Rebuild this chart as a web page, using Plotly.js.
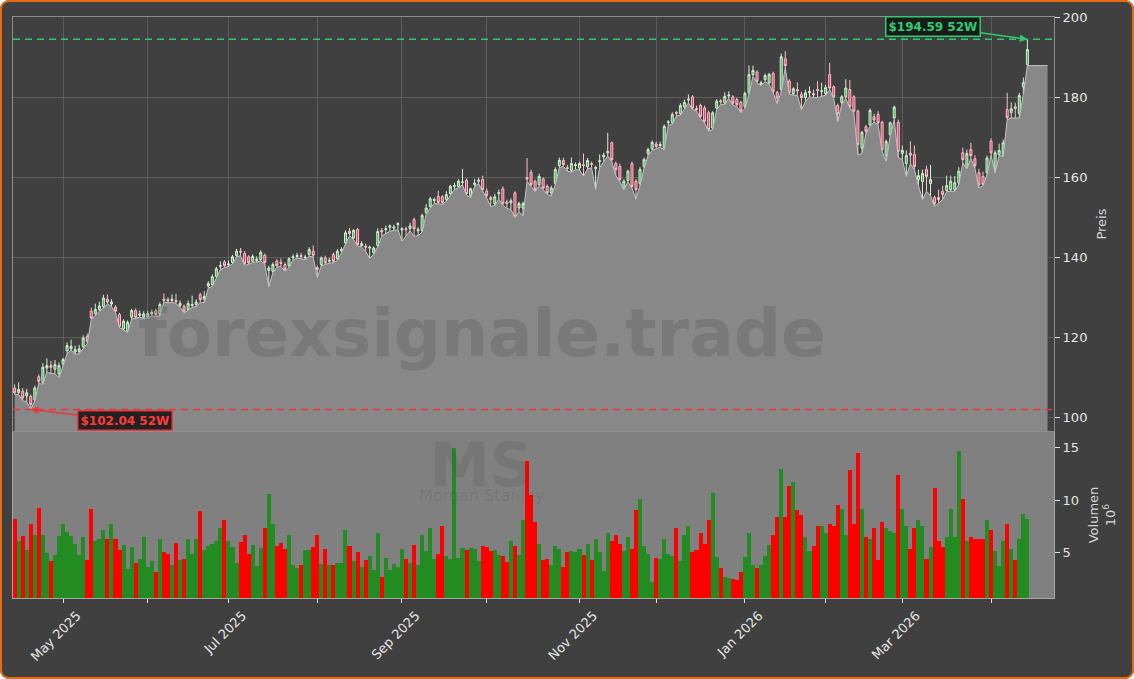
<!DOCTYPE html>
<html><head><meta charset="utf-8">
<script src="https://cdn.plot.ly/plotly-3.0.1.min.js"></script>
<style>
html,body{margin:0;padding:0;background:#ffffff;}
#wrap{position:relative;width:1134px;height:679px;border-radius:9px;overflow:hidden;}
#chart{width:1134px;height:679px;}
#frame{position:absolute;left:0;top:0;width:1134px;height:679px;box-sizing:border-box;border:2px solid #ea6a12;border-radius:9px;pointer-events:none;}
</style></head><body>
<div id="wrap"><div id="chart"></div><div id="frame"></div></div>
<script>
// ---- data ----
const startDate = '2025-04-14';
const holidays = ['2025-04-18','2025-05-26','2025-06-19','2025-07-04','2025-09-01','2025-11-27','2025-12-25','2026-01-01','2026-01-19','2026-02-16','2026-04-03'];
const tailDays = 5;

const opens = [
107.4,106.3,106.6,105.4,105.3,104.4,110.2,108.8,112.4,113.0,
112.1,110.9,113.4,116.7,117.2,116.4,116.5,117.8,120.3,126.6,
126.0,127.0,127.8,129.6,128.4,127.6,125.75,122.2,121.6,125.1,
126.75,125.6,125.1,125.1,125.9,126.7,125.9,129.6,129.5,129.3,
129.3,128.0,127.8,127.0,128.0,128.3,130.75,129.6,132.9,133.25,
135.3,137.8,138.9,138.2,138.8,140.5,141.6,141.0,140.2,139.1,
139.3,139.5,140.6,136.8,136.6,139.1,138.8,138.25,138.0,140.0,
140.3,140.5,140.0,140.8,141.6,137.5,138.25,139.9,139.1,140.75,
139.7,141.7,143.7,146.6,144.9,147.0,143.0,142.9,142.4,141.2,
143.0,146.8,147.0,147.6,147.4,148.3,146.9,147.2,147.3,149.5,
146.7,146.8,151.2,152.8,154.3,155.3,155.2,154.5,156.0,157.8,
157.8,158.8,159.3,155.5,158.3,159.1,159.5,156.6,155.0,153.5,
156.0,157.2,153.9,153.7,156.2,152.4,152.4,160.0,161.3,159.1,
158.25,159.7,157.8,156.2,158.5,163.0,164.3,162.5,161.8,163.0,
162.4,163.2,162.7,163.5,162.3,164.0,165.2,166.2,168.7,163.5,
162.8,157.4,159.3,163.5,159.1,158.5,162.8,166.0,167.2,168.4,
168.0,167.4,173.8,173.7,176.3,176.0,177.7,179.4,180.2,177.3,
178.0,177.4,176.2,172.4,177.4,179.2,178.7,180.4,180.2,179.5,
178.8,177.8,181.2,185.75,186.4,183.3,184.5,183.7,186.0,181.3,
182.0,189.7,184.1,181.0,182.0,180.8,180.0,181.2,181.0,182.0,
181.5,181.0,185.75,182.7,178.0,178.8,180.2,182.0,180.2,176.6,
167.4,172.7,173.25,175.2,175.75,173.8,165.5,170.75,174.9,173.8,
166.0,163.5,166.1,165.75,159.5,159.0,162.0,158.5,155.0,155.0,
156.6,156.8,157.0,157.0,158.7,166.2,162.4,167.0,164.7,161.2,
160.3,161.2,169.1,162.0,165.75,165.5,177.0,176.3,177.7,176.0,
182.7,188.3];

const highs = [
108.3,108.8,107.4,107.2,105.8,108.0,110.8,113.6,114.8,114.2,
114.4,113.8,114.9,118.8,119.5,118.0,118.2,120.6,121.0,127.5,
128.5,129.0,130.7,130.8,129.6,128.1,126.2,124.6,124.3,127.2,
127.3,126.8,126.6,126.8,127.0,127.2,128.8,131.0,130.1,130.8,
131.0,129.3,128.3,129.3,130.5,129.6,131.2,131.6,134.1,135.8,
137.7,139.1,139.4,139.3,140.7,142.2,142.4,141.6,140.6,140.8,
140.3,141.8,141.0,138.0,138.8,139.6,139.8,138.8,140.1,140.8,
141.2,141.2,140.7,142.6,143.0,138.0,140.3,140.5,140.0,141.3,
142.1,142.6,146.8,147.4,147.1,147.4,144.1,143.5,143.0,142.8,
147.3,147.4,148.0,148.3,148.2,148.8,147.6,147.7,148.7,150.0,
147.6,151.0,153.4,155.2,155.0,156.7,155.6,156.6,158.2,158.7,
159.6,162.2,159.8,157.5,159.7,160.0,160.5,157.3,155.5,156.0,
157.0,157.8,154.5,154.8,156.6,154.0,154.0,164.9,162.0,159.5,
161.0,160.0,158.3,158.0,162.6,165.0,165.0,163.2,165.0,163.8,
164.0,166.0,164.9,164.0,163.0,165.8,166.2,171.2,169.0,164.0,
163.5,159.6,162.0,164.0,159.6,162.6,165.0,167.5,169.3,169.0,
169.0,173.3,174.4,176.3,176.7,178.6,179.5,180.8,180.6,178.0,
178.5,178.0,176.7,176.6,179.6,179.6,181.3,181.6,180.6,180.0,
179.2,181.5,188.0,188.0,186.8,184.2,186.0,186.2,186.5,181.7,
191.0,191.6,184.6,182.6,183.8,181.5,182.0,182.8,182.0,184.1,
183.7,183.2,188.7,183.0,178.5,180.6,184.6,184.4,180.6,177.0,
171.7,173.2,177.3,176.0,176.6,174.2,169.5,174.0,178.0,174.5,
168.0,166.8,169.1,168.0,162.0,162.0,163.0,163.2,155.5,157.0,
158.0,160.5,160.5,160.4,162.6,167.5,167.0,168.7,165.6,162.2,
161.5,165.5,169.8,166.8,168.5,169.5,181.2,178.8,178.7,181.2,
185.0,194.59];

const lows = [
105.8,105.8,104.2,104.0,102.04,104.2,108.6,108.3,111.4,111.0,
111.0,110.0,112.9,116.0,116.9,115.8,116.0,117.3,118.5,124.5,
125.6,126.6,127.4,128.4,127.8,126.3,122.5,121.9,121.3,124.6,
124.8,125.1,124.8,124.9,125.4,125.3,125.5,128.9,128.7,128.8,
128.5,127.6,126.2,126.8,127.5,127.8,128.8,128.7,132.4,132.8,
134.9,137.0,137.5,137.8,138.4,140.2,140.5,138.1,138.3,138.8,
138.9,139.2,138.4,132.7,136.2,137.6,137.8,136.6,137.5,139.4,
139.9,139.7,139.5,140.3,140.2,135.0,137.9,138.3,138.6,138.7,
139.3,141.2,143.3,145.5,144.5,142.9,142.6,141.6,139.8,140.9,
142.7,145.4,146.0,146.6,146.8,147.0,144.1,145.3,146.7,145.3,
145.5,146.4,150.8,152.4,153.6,153.4,153.3,154.1,155.6,157.0,
157.5,158.2,155.6,155.0,157.8,158.5,156.6,154.9,152.8,153.0,
154.6,153.1,152.3,152.0,150.0,151.5,150.4,159.0,157.8,156.5,
157.9,157.0,155.8,155.4,158.2,162.5,162.8,161.6,161.4,162.0,
161.9,160.4,162.2,162.4,157.0,162.5,164.0,165.4,164.0,160.5,
159.0,157.0,158.9,157.4,154.6,158.0,162.3,165.5,166.8,167.3,
167.6,167.0,173.1,173.3,175.4,175.6,177.3,178.7,177.0,176.7,
174.8,173.7,171.6,172.0,177.0,178.3,178.3,179.8,178.1,177.8,
176.2,177.3,180.8,185.3,183.7,183.0,184.0,183.3,181.2,178.5,
181.5,187.5,180.8,180.6,180.5,177.0,179.0,180.2,180.0,180.0,
180.3,180.6,182.0,179.8,174.0,178.3,179.8,177.4,176.2,165.7,
166.0,171.0,172.8,173.9,173.2,166.6,164.1,170.3,174.5,165.0,
164.5,160.3,163.5,162.0,158.0,154.5,156.6,155.5,152.8,153.7,
154.5,156.5,156.6,156.6,158.2,163.7,162.2,164.8,162.3,157.4,
158.0,160.8,165.6,161.2,165.5,165.3,174.5,174.9,174.9,174.9,
180.8,188.0];

const closes = [
106.2,107.0,104.9,106.2,103.3,107.4,109.1,112.6,113.0,112.6,
113.3,113.0,114.5,118.0,117.8,117.0,117.2,119.9,119.1,124.9,
127.0,127.9,129.9,128.9,128.9,126.6,122.8,124.1,123.8,126.75,
125.1,125.9,125.9,126.0,126.3,125.75,128.25,129.3,129.2,129.6,
129.0,128.6,126.6,128.5,128.3,128.9,129.5,130.3,133.5,135.2,
137.2,138.0,138.0,138.4,140.2,141.6,141.4,138.5,138.7,140.3,
139.6,141.3,138.8,137.4,138.25,138.0,138.6,137.0,139.7,140.2,
140.5,140.3,140.1,142.0,140.6,137.0,139.9,138.7,139.3,139.1,
141.6,142.0,146.2,146.0,146.8,143.25,143.5,142.6,142.6,142.4,
146.5,146.4,147.2,147.9,147.6,148.5,147.2,147.0,147.9,147.2,
147.0,150.5,152.4,154.7,154.5,153.8,153.8,155.75,157.8,158.0,
159.1,158.9,156.0,157.2,158.6,159.3,157.0,155.5,154.5,155.2,
156.2,153.5,153.5,154.2,150.3,153.5,153.5,159.6,158.25,157.0,
160.3,157.4,156.2,157.4,162.0,164.3,163.25,162.3,163.5,163.2,
163.5,163.0,164.3,163.3,162.5,164.2,165.6,166.5,164.5,162.0,
159.5,159.1,161.6,157.8,157.0,162.0,164.5,167.0,168.8,167.8,
168.3,172.8,173.9,175.75,176.1,178.0,178.8,179.6,177.4,177.0,
175.3,174.1,172.0,176.2,179.1,179.0,180.3,180.6,178.6,178.25,
176.6,181.0,185.75,186.8,184.1,183.7,185.5,185.75,181.6,179.9,
190.2,188.0,181.2,182.2,181.7,180.0,181.2,181.5,180.7,181.8,
181.7,182.5,182.4,180.2,176.0,180.2,182.4,177.8,176.6,168.25,
171.3,171.6,176.8,174.4,173.7,167.0,169.0,173.7,177.6,166.6,
166.8,165.5,165.6,162.8,160.5,161.0,160.3,159.5,153.5,154.5,
155.8,158.0,159.1,158.7,161.6,164.5,166.0,165.5,163.0,158.25,
158.25,164.9,166.2,166.2,166.8,168.7,175.0,177.2,177.3,180.5,
183.7,192.0];

// volume in millions of shares
const volumes = [
8.24,6.08,6.56,5.19,7.76,6.62,9.29,6.62,4.97,4.14,
4.71,6.56,7.76,6.94,6.56,5.76,4.71,6.46,4.24,9.19,
6.08,6.24,7.19,6.33,7.76,6.33,5.19,5.67,3.38,5.51,
4.0,4.33,6.43,3.57,4.14,3.1,6.24,5.03,4.81,3.76,
5.86,4.27,4.33,6.24,4.81,6.24,9.0,5.19,5.6,5.76,
6.08,7.29,8.05,6.14,5.48,3.95,5.98,6.62,4.81,5.67,
3.7,5.38,7.38,10.62,7.67,5.6,5.86,5.29,6.62,3.76,
3.48,3.76,5.19,5.19,5.48,6.71,3.86,5.29,3.76,3.76,
3.95,4.0,7.1,5.6,4.14,5.0,3.57,4.24,4.62,3.29,
6.81,2.62,4.43,3.29,3.86,3.57,5.29,4.33,3.95,5.67,
3.76,6.71,5.1,7.38,4.33,4.81,7.57,4.62,4.33,15.0,
4.43,5.38,5.19,5.38,5.29,4.14,5.6,5.48,5.1,5.19,
4.71,4.62,4.05,6.14,5.57,4.71,8.05,13.76,10.52,7.95,
5.76,4.24,4.33,3.76,5.57,5.29,3.57,5.0,5.1,5.0,
5.29,4.71,5.76,4.24,6.33,5.0,3.19,6.9,6.05,6.71,
5.76,5.1,6.43,5.29,9.1,10.14,5.57,4.81,2.14,4.43,
4.33,6.24,4.81,4.62,7.29,4.14,6.62,7.57,5.03,5.19,
6.81,5.76,8.05,10.71,4.52,3.48,2.62,2.52,2.43,2.33,
3.10,4.52,6.81,3.76,3.48,3.76,4.62,5.67,6.62,8.43,
13.0,8.43,11.38,11.76,9.1,8.62,6.43,5.1,5.57,7.48,
7.48,6.81,7.76,7.57,9.57,9.19,6.62,12.9,7.76,14.52,
9.19,6.43,6.33,7.29,4.24,7.86,7.38,7.0,6.9,12.43,
9.19,7.48,5.29,7.29,8.05,7.48,4.33,5.48,11.19,6.05,
5.48,6.52,9.19,6.43,14.71,10.14,6.05,6.43,6.33,6.33,
6.24,8.14,7.1,5.1,3.67,6.05,7.67,5.29,4.24,6.33,
8.71,8.24];

const monthKeys = ['2025-05','2025-06','2025-07','2025-08','2025-09','2025-10','2025-11','2025-12','2026-01','2026-02','2026-03','2026-04'];
const monthLabels = ['May 2025',' ','Jul 2025',' ','Sep 2025',' ','Nov 2025',' ','Jan 2026',' ','Mar 2026',' '];
const priceTicks = [100,120,140,160,180,200];
const volumeTicks = [5,10,15];

// ---- trading calendar ----
const N = closes.length;
const dates = [];
(function(){
  const hol = new Set(holidays);
  let t = Date.parse(startDate + 'T00:00:00Z');
  while (dates.length < N + tailDays) {
    const d = new Date(t);
    const wd = d.getUTCDay();
    const s = d.toISOString().slice(0,10);
    if (wd !== 0 && wd !== 6 && !hol.has(s)) dates.push(s);
    t += 86400000;
  }
})();
const cDates = dates.slice(0, N);
const areaY = lows.concat(new Array(tailDays).fill(lows[N-1]));
const tickvals = monthKeys.map(k => dates.find(s => s.startsWith(k)));

let hiIdx = 0, loIdx = 0;
for (let i = 0; i < N; i++) { if (highs[i] > highs[hiIdx]) hiIdx = i; if (lows[i] < lows[loIdx]) loIdx = i; }
const hiVal = highs[hiIdx], loVal = lows[loIdx];

const volColors = cDates.map((d,i) => closes[i] >= opens[i] ? '#228b22' : '#ff0000');

const FONT = 'DejaVu Sans, Liberation Sans, sans-serif';
const GREEN = '#2ecc71', RED = '#e8383d';
const xr = [-0.4, 257.6];

const traces = [
  { type:'scatter', mode:'lines', x: dates, y: areaY, xaxis:'x2', yaxis:'y',
    fill:'tozeroy', fillcolor:'#888888', line:{color:'#c4c4c4', width:1}, hoverinfo:'skip' },
  { type:'candlestick', x: cDates, open: opens, high: highs, low: lows, close: closes,
    xaxis:'x2', yaxis:'y', whiskerwidth:0,
    increasing:{ line:{color:'#d4f0d4', width:1}, fillcolor:'#3cb34a' },
    decreasing:{ line:{color:'#f7c4cf', width:1}, fillcolor:'#e8365a' } },
  { type:'bar', x: cDates, y: volumes, xaxis:'x', yaxis:'y2',
    marker:{ color: volColors, line:{width:0} } }
];

const layout = {
  width:1134, height:679,
  paper_bgcolor:'#404040', plot_bgcolor:'#404040',
  margin:{l:13, r:80, t:17, b:81},
  showlegend:false, bargap:0,
  font:{family:FONT, color:'#e6e6e6', size:13},
  xaxis:{ type:'category', categoryorder:'array', categoryarray: dates, range: xr, anchor:'y2', domain:[0,1],
    tickmode:'array', tickvals: tickvals, ticktext: monthLabels, tickangle:-45, ticklabelshift:14,
    ticks:'outside', ticklen:4, tickcolor:'#e0e0e0', tickfont:{family:FONT, size:13, color:'#e6e6e6'},
    showgrid:false, zeroline:false, showline:true, linecolor:'#a6a6a6', mirror:true,
    rangeslider:{visible:false} },
  xaxis2:{ type:'category', categoryorder:'array', categoryarray: dates, range: xr, anchor:'y', domain:[0,1],
    tickmode:'array', tickvals: tickvals, showticklabels:false, ticks:'',
    showgrid:true, gridcolor:'#5c5c5c', gridwidth:1, zeroline:false,
    showline:true, linecolor:'#8e8e8e', mirror:true, rangeslider:{visible:false} },
  yaxis:{ domain:[0.2874,1], range:[96.65,200.15], side:'right', anchor:'x2',
    tickmode:'array', tickvals: priceTicks, ticks:'outside', ticklen:5, tickcolor:'#e0e0e0',
    tickfont:{family:FONT, size:13, color:'#e6e6e6'},
    showgrid:true, gridcolor:'#5c5c5c', zeroline:false, showline:true, linecolor:'#8e8e8e', mirror:true,
    title:{text:'Preis', font:{family:FONT, size:13, color:'#d6d6d6'}, standoff:10} },
  yaxis2:{ domain:[0,0.2857], range:[0.65,16.5], side:'right', anchor:'x',
    tickmode:'array', tickvals: volumeTicks, ticks:'outside', ticklen:5, tickcolor:'#e0e0e0',
    tickfont:{family:FONT, size:13, color:'#e6e6e6'},
    showgrid:false, zeroline:false, showline:true, linecolor:'#a6a6a6', mirror:true,
    title:{text:'Volumen<br>10<sup>6</sup>', font:{family:FONT, size:13, color:'#d6d6d6'}, standoff:10} },
  shapes:[
    { type:'rect', xref:'x domain', yref:'y2 domain', x0:0, x1:1, y0:0, y1:1,
      fillcolor:'#808080', line:{width:0}, layer:'below' },
    { type:'line', xref:'x2 domain', yref:'y', x0:0, x1:1, y0:hiVal, y1:hiVal,
      line:{color:GREEN, width:1.5, dash:'7px,5px'} },
    { type:'line', xref:'x2 domain', yref:'y', x0:0, x1:1, y0:loVal, y1:loVal,
      line:{color:RED, width:1.5, dash:'7px,5px'} }
  ],
  annotations:[
    { xref:'paper', yref:'paper', x:0.4505, y:0.456, xanchor:'center', yanchor:'middle', showarrow:false,
      text:'<b>forexsignale.trade</b>',
      font:{family:FONT, size:66, color:'rgba(45,45,45,0.17)'} },
    { xref:'paper', yref:'paper', x:0.4496, y:0.229, xanchor:'center', yanchor:'middle', showarrow:false,
      text:'<b>MS</b>',
      font:{family:FONT, size:60, color:'rgba(50,50,50,0.12)'} },
    { xref:'paper', yref:'paper', x:0.4496, y:0.177, xanchor:'center', yanchor:'middle', showarrow:false,
      text:'Morgan Stanley',
      font:{family:FONT, size:16, color:'rgba(50,50,50,0.15)'} },
    { xref:'x2', yref:'y', x: cDates[hiIdx], y: hiVal, text:'<b>$' + hiVal.toFixed(2) + ' 52W</b>',
      showarrow:true, ax:-94, ay:-13, arrowcolor:GREEN, arrowwidth:1.5, arrowhead:2, arrowsize:1,
      bgcolor:'rgba(22,22,22,0.9)', bordercolor:GREEN, borderwidth:1.5, borderpad:2,
      font:{family:FONT, size:12, color:GREEN} },
    { xref:'x2', yref:'y', x: cDates[loIdx], y: loVal, text:'<b>$' + loVal.toFixed(2) + ' 52W</b>',
      showarrow:true, ax:94, ay:11, arrowcolor:RED, arrowwidth:1.5, arrowhead:2, arrowsize:1,
      bgcolor:'rgba(22,22,22,0.9)', bordercolor:RED, borderwidth:1.5, borderpad:2,
      font:{family:FONT, size:12, color:'#ff3b3b'} }
  ]
};

Plotly.newPlot('chart', traces, layout, {staticPlot:true, displayModeBar:false});
</script>
</body></html>
